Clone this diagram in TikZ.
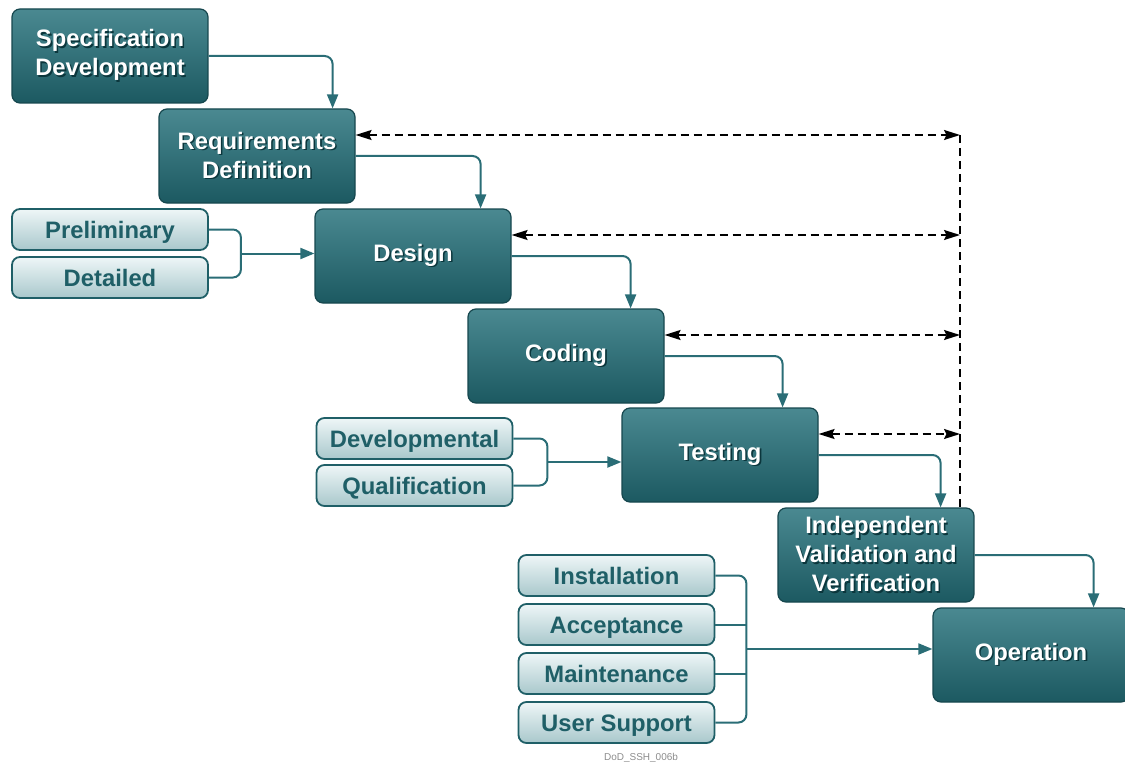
\documentclass[tikz,border=0pt]{standalone}
\usepackage{fontspec}
\setmainfont{Liberation Sans}
\usetikzlibrary{arrows.meta,calc}

\definecolor{tealdark}{HTML}{1C5961}
\definecolor{teallight}{HTML}{4A8991}
\definecolor{tealline}{HTML}{2A6D76}
\definecolor{tealtext}{HTML}{1F5F67}
\definecolor{paletop}{HTML}{EEF6F7}
\definecolor{palebot}{HTML}{A9C8CC}
\definecolor{shadowc}{HTML}{0B363C}

\newcommand{\shtext}[1]{\makebox[0pt][l]{\hspace{0.8pt}\raisebox{-0.8pt}{\textcolor{shadowc}{#1}}}#1}

\tikzset{
    phase/.style={rectangle, rounded corners=4pt, draw=tealdark!80!black, line width=0.6pt,
        top color=teallight, bottom color=tealdark, minimum width=98pt, minimum height=47pt,
        inner sep=0pt, align=center, text=white, font=\bfseries\fontsize{11.9}{14.5}\selectfont},
    task/.style={rectangle, rounded corners=4pt, draw=tealtext, line width=0.9pt,
        top color=paletop, bottom color=palebot, minimum width=98pt, minimum height=20.5pt,
        inner sep=0pt, text height=8.6pt, text depth=0pt, text=tealtext,
        font=\bfseries\fontsize{11.9}{14.5}\selectfont},
    link/.style={draw=tealline, line width=1pt, rounded corners=4pt},
    flow/.style={link, -{Triangle[length=7pt,width=5.5pt]}},
    ivline/.style={draw=black, line width=0.9pt, dash pattern=on 4pt off 2.5pt},
    ivarrow/.style={ivline, {Stealth[length=8pt,width=5pt,inset=1.2pt]}-{Stealth[length=8pt,width=5pt,inset=1.2pt]}}
}

\begin{document}
\begin{tikzpicture}[x=0.5pt, y=-0.5pt]
    \useasboundingbox (0,0) rectangle (1125,765);

    % main phases
    \node[phase] (spec) at (110,56) {\shtext{Specification}\\\shtext{Development}};
    \node[phase] (req) at (257,156) {\shtext{Requirements}\\\shtext{Definition}};
    \node[phase] (design) at (413,256) {\shtext{Design}};
    \node[phase] (coding) at (566,356) {\shtext{Coding}};
    \node[phase] (testing) at (720,455) {\shtext{Testing}};
    \node[phase] (ivv) at (876,555) {\shtext{Independent}\\\shtext{Validation and}\\\shtext{Verification}};
    \node[phase] (oper) at (1031,655) {\shtext{Operation}};

    % sub tasks
    \node[task] (prelim) at (110,229.5) {Preliminary};
    \node[task] (detail) at (110,277.5) {Detailed};
    \node[task] (devel) at (414.5,438.5) {Developmental};
    \node[task] (qualif) at (414.5,485.5) {Qualification};
    \node[task] (install) at (616.5,575.5) {Installation};
    \node[task] (accept) at (616.5,624.5) {Acceptance};
    \node[task] (maint) at (616.5,673.5) {Maintenance};
    \node[task] (support) at (616.5,722.5) {User Support};

    \node[font=\fontsize{5}{6}\selectfont, text=black!45] (tag) at (641,758) {DoD\_SSH\_006b};

    % waterfall
    \draw[flow] (spec.east) -| ([xshift=-11.5pt]req.north east);
    \draw[flow] (req.east) -| ([xshift=-15.5pt]design.north east);
    \draw[flow] (design.east) -| ([xshift=-17pt]coding.north east);
    \draw[flow] (coding.east) -| ([xshift=-18pt]testing.north east);
    \draw[flow] (testing.east) -| ([xshift=-17pt]ivv.north east);
    \draw[flow] (ivv.east) -| ([xshift=-18pt]oper.north east);

    % brackets
    \coordinate (jd) at ($(prelim.east)!.5!(detail.east)+(32,0)$);
    \draw[link] (prelim.east) -| (jd) |- (detail.east);
    \draw[flow] (jd) -- (jd -| design.west);

    \coordinate (jt) at ($(devel.east)!.5!(qualif.east)+(34,0)$);
    \draw[link] (devel.east) -| (jt) |- (qualif.east);
    \draw[flow] (jt) -- (jt -| testing.west);

    \coordinate (jo) at ($(install.east)!.5!(support.east)+(31,0)$);
    \draw[link] (install.east) -| (jo) |- (support.east);
    \draw[link] (accept.east) -- (accept.east -| jo);
    \draw[link] (maint.east) -- (maint.east -| jo);
    \draw[flow] (jo) -- (jo -| oper.west);

    % IV&V links
    \coordinate (vtop) at (960,135);
    \draw[ivline] (vtop) -- (vtop |- ivv.north);
    \foreach \n in {req,design,coding,testing}
        \draw[ivarrow] ([yshift=10.5pt]\n.east) -- ([yshift=10.5pt]\n.east -| vtop);
\end{tikzpicture}
\end{document}
